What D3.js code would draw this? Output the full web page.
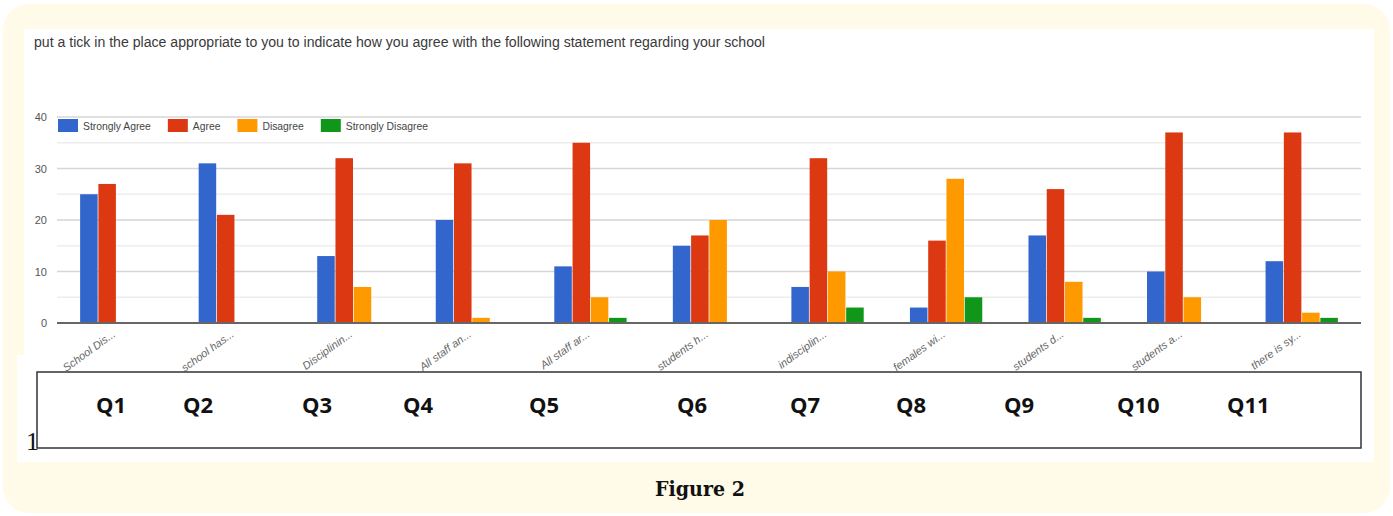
<!DOCTYPE html>
<html>
<head>
<meta charset="utf-8">
<script src="https://cdn.jsdelivr.net/npm/d3@7"></script>
<style>
  body { margin: 0; background: #ffffff; }
  svg text { font-family: "Liberation Sans", Arial, sans-serif; }
</style>
</head>
<body>
<div id="chart"></div>
<script>
// Data
var categories = ["School Dis...", "school has...", "Disciplinin...", "All staff an...", "All staff ar...",
    "students h...", "indisciplin...", "females wi...", "students d...", "students a...", "there is sy..."];
var questions = ["Q1", "Q2", "Q3", "Q4", "Q5", "Q6", "Q7", "Q8", "Q9", "Q10", "Q11"];
var seriesNames = ["Strongly Agree", "Agree", "Disagree", "Strongly Disagree"];
var stronglyAgree = [25, 31, 13, 20, 11, 15, 7, 3, 17, 10, 12];
var agree = [27, 21, 32, 31, 35, 17, 32, 16, 26, 37, 37];
var disagree = [0, 0, 7, 1, 5, 20, 10, 28, 8, 5, 2];
var stronglyDisagree = [0, 0, 0, 0, 1, 0, 3, 5, 1, 0, 1];
var yTicks = [0, 10, 20, 30, 40];
var title = "put a tick in the place appropriate to you to indicate how you agree with the following statement regarding your school";
var caption = "Figure 2";

// Layout
var W = 1393, H = 516;
var colors = ["#3366cc", "#dc3912", "#ff9900", "#109618"];
var plot = { left: 57, right: 1361, top: 117, bottom: 323 };
// hand placed Q labels in the box under the chart (left edge of each label)
var qLabelPos = [96, 183, 302, 403, 529, 677, 790, 896, 1004, 1117, 1227];

var series = [stronglyAgree, agree, disagree, stronglyDisagree];
var table = categories.map(function (c, i) {
    return { cat: c, values: series.map(function (s, k) { return { key: seriesNames[k], value: s[i], k: k }; }) };
});

var svg = d3.select("#chart").append("svg")
    .attr("width", W).attr("height", H);

// cream background frame
svg.append("rect").attr("x", 3).attr("y", 4).attr("width", 1387).attr("height", 509)
    .attr("rx", 26).attr("fill", "#fffbe8");
// white panels (chart screenshot + box image)
svg.append("rect").attr("x", 24).attr("y", 29).attr("width", 1350).attr("height", 330).attr("fill", "#ffffff");
svg.append("rect").attr("x", 17).attr("y", 355).attr("width", 1357).attr("height", 107).attr("fill", "#ffffff");

// title
svg.append("text")
    .attr("x", 34).attr("y", 47)
    .attr("font-size", 14)
    .attr("fill", "#3a3a3a")
    .attr("textLength", 731)
    .attr("lengthAdjust", "spacingAndGlyphs")
    .text(title);

// scales
var x0 = d3.scaleBand().domain(categories).range([plot.left, plot.right]).paddingInner(0).paddingOuter(0);
var groupW = x0.bandwidth() * 0.61;
var x1 = d3.scaleBand().domain(d3.range(seriesNames.length)).range([0, groupW]).paddingInner(0.04);
var y = d3.scaleLinear().domain([0, 40]).range([plot.bottom, plot.top]);

var g = svg.append("g");

// gridlines (minor every 5, major every 10)
g.selectAll(".minor").data(d3.range(5, 40, 10)).enter().append("line")
    .attr("x1", plot.left).attr("x2", plot.right)
    .attr("y1", function (d) { return y(d); }).attr("y2", function (d) { return y(d); })
    .attr("stroke", "#eeeeee").attr("stroke-width", 1.5);
g.selectAll(".major").data(yTicks.slice(1)).enter().append("line")
    .attr("x1", plot.left).attr("x2", plot.right)
    .attr("y1", function (d) { return y(d); }).attr("y2", function (d) { return y(d); })
    .attr("stroke", "#d6d6d6").attr("stroke-width", 1.5);

// y axis labels
var yAxis = g.append("g")
    .attr("transform", "translate(" + (plot.left - 10) + ",0)")
    .call(d3.axisLeft(y).tickValues(yTicks).tickSize(0).tickPadding(0));
yAxis.select(".domain").remove();
yAxis.selectAll("text").attr("font-size", 11).attr("fill", "#555")
    .style("font-family", "'Liberation Sans', Arial, sans-serif");

// bars
var groups = g.selectAll(".grp").data(table).enter().append("g")
    .attr("transform", function (d) {
        return "translate(" + (x0(d.cat) + (x0.bandwidth() - groupW) / 2) + ",0)";
    });
groups.selectAll("rect").data(function (d) { return d.values.filter(function (v) { return v.value > 0; }); })
    .enter().append("rect")
    .attr("x", function (d) { return x1(d.k); })
    .attr("y", function (d) { return y(d.value); })
    .attr("width", x1.bandwidth())
    .attr("height", function (d) { return y(0) - y(d.value); })
    .attr("fill", function (d) { return colors[d.k]; });

// baseline
g.append("line").attr("x1", plot.left).attr("x2", plot.right)
    .attr("y1", y(0)).attr("y2", y(0))
    .attr("stroke", "#666").attr("stroke-width", 2);

// x axis labels, slanted
var xAxis = g.append("g")
    .attr("transform", "translate(0," + (plot.bottom + 10) + ")")
    .call(d3.axisBottom(x0).tickSize(0).tickPadding(0));
xAxis.select(".domain").remove();
xAxis.selectAll("text")
    .attr("font-size", 11)
    .attr("fill", "#666")
    .attr("font-style", "italic")
    .style("font-family", "'Liberation Sans', Arial, sans-serif")
    .attr("text-anchor", "end")
    .attr("dy", "0.3em")
    .attr("transform", "translate(-2,0) rotate(-36)");

// legend
var legend = svg.append("g").attr("transform", "translate(58," + 119 + ")");
var lx = 0;
seriesNames.forEach(function (name, k) {
    var item = legend.append("g").attr("transform", "translate(" + lx + ",0)");
    item.append("rect").attr("width", 20).attr("height", 13).attr("fill", colors[k]);
    var t = item.append("text").attr("x", 25).attr("y", 10.5)
        .attr("font-size", 11).attr("fill", "#444").text(name);
    var len = t.node().getComputedTextLength() * 0.94;
    t.attr("textLength", len).attr("lengthAdjust", "spacingAndGlyphs");
    lx += 25 + len + 17;
});

// Q box
svg.append("text").attr("x", 26).attr("y", 450)
    .attr("font-size", 26).attr("fill", "#111")
    .style("font-family", "'Liberation Serif', serif")
    .text("1");
svg.append("rect").attr("x", 37).attr("y", 372).attr("width", 1324).attr("height", 76)
    .attr("fill", "#ffffff").attr("stroke", "#333").attr("stroke-width", 1.5);
svg.selectAll(".qlab").data(questions).enter().append("text")
    .attr("x", function (d, i) { return qLabelPos[i]; })
    .attr("y", 413)
    .attr("font-size", 22)
    .attr("font-weight", "bold")
    .attr("fill", "#111")
    .style("font-family", "'Open Sans', 'Noto Sans', sans-serif")
    .text(function (d) { return d; });

// caption
svg.append("text").attr("x", 700).attr("y", 496)
    .attr("text-anchor", "middle")
    .attr("font-size", 21)
    .attr("font-weight", "bold")
    .attr("fill", "#111")
    .style("font-family", "'DejaVu Serif', 'Liberation Serif', serif")
    .attr("textLength", 90)
    .attr("lengthAdjust", "spacingAndGlyphs")
    .text(caption);
</script>
</body>
</html>
